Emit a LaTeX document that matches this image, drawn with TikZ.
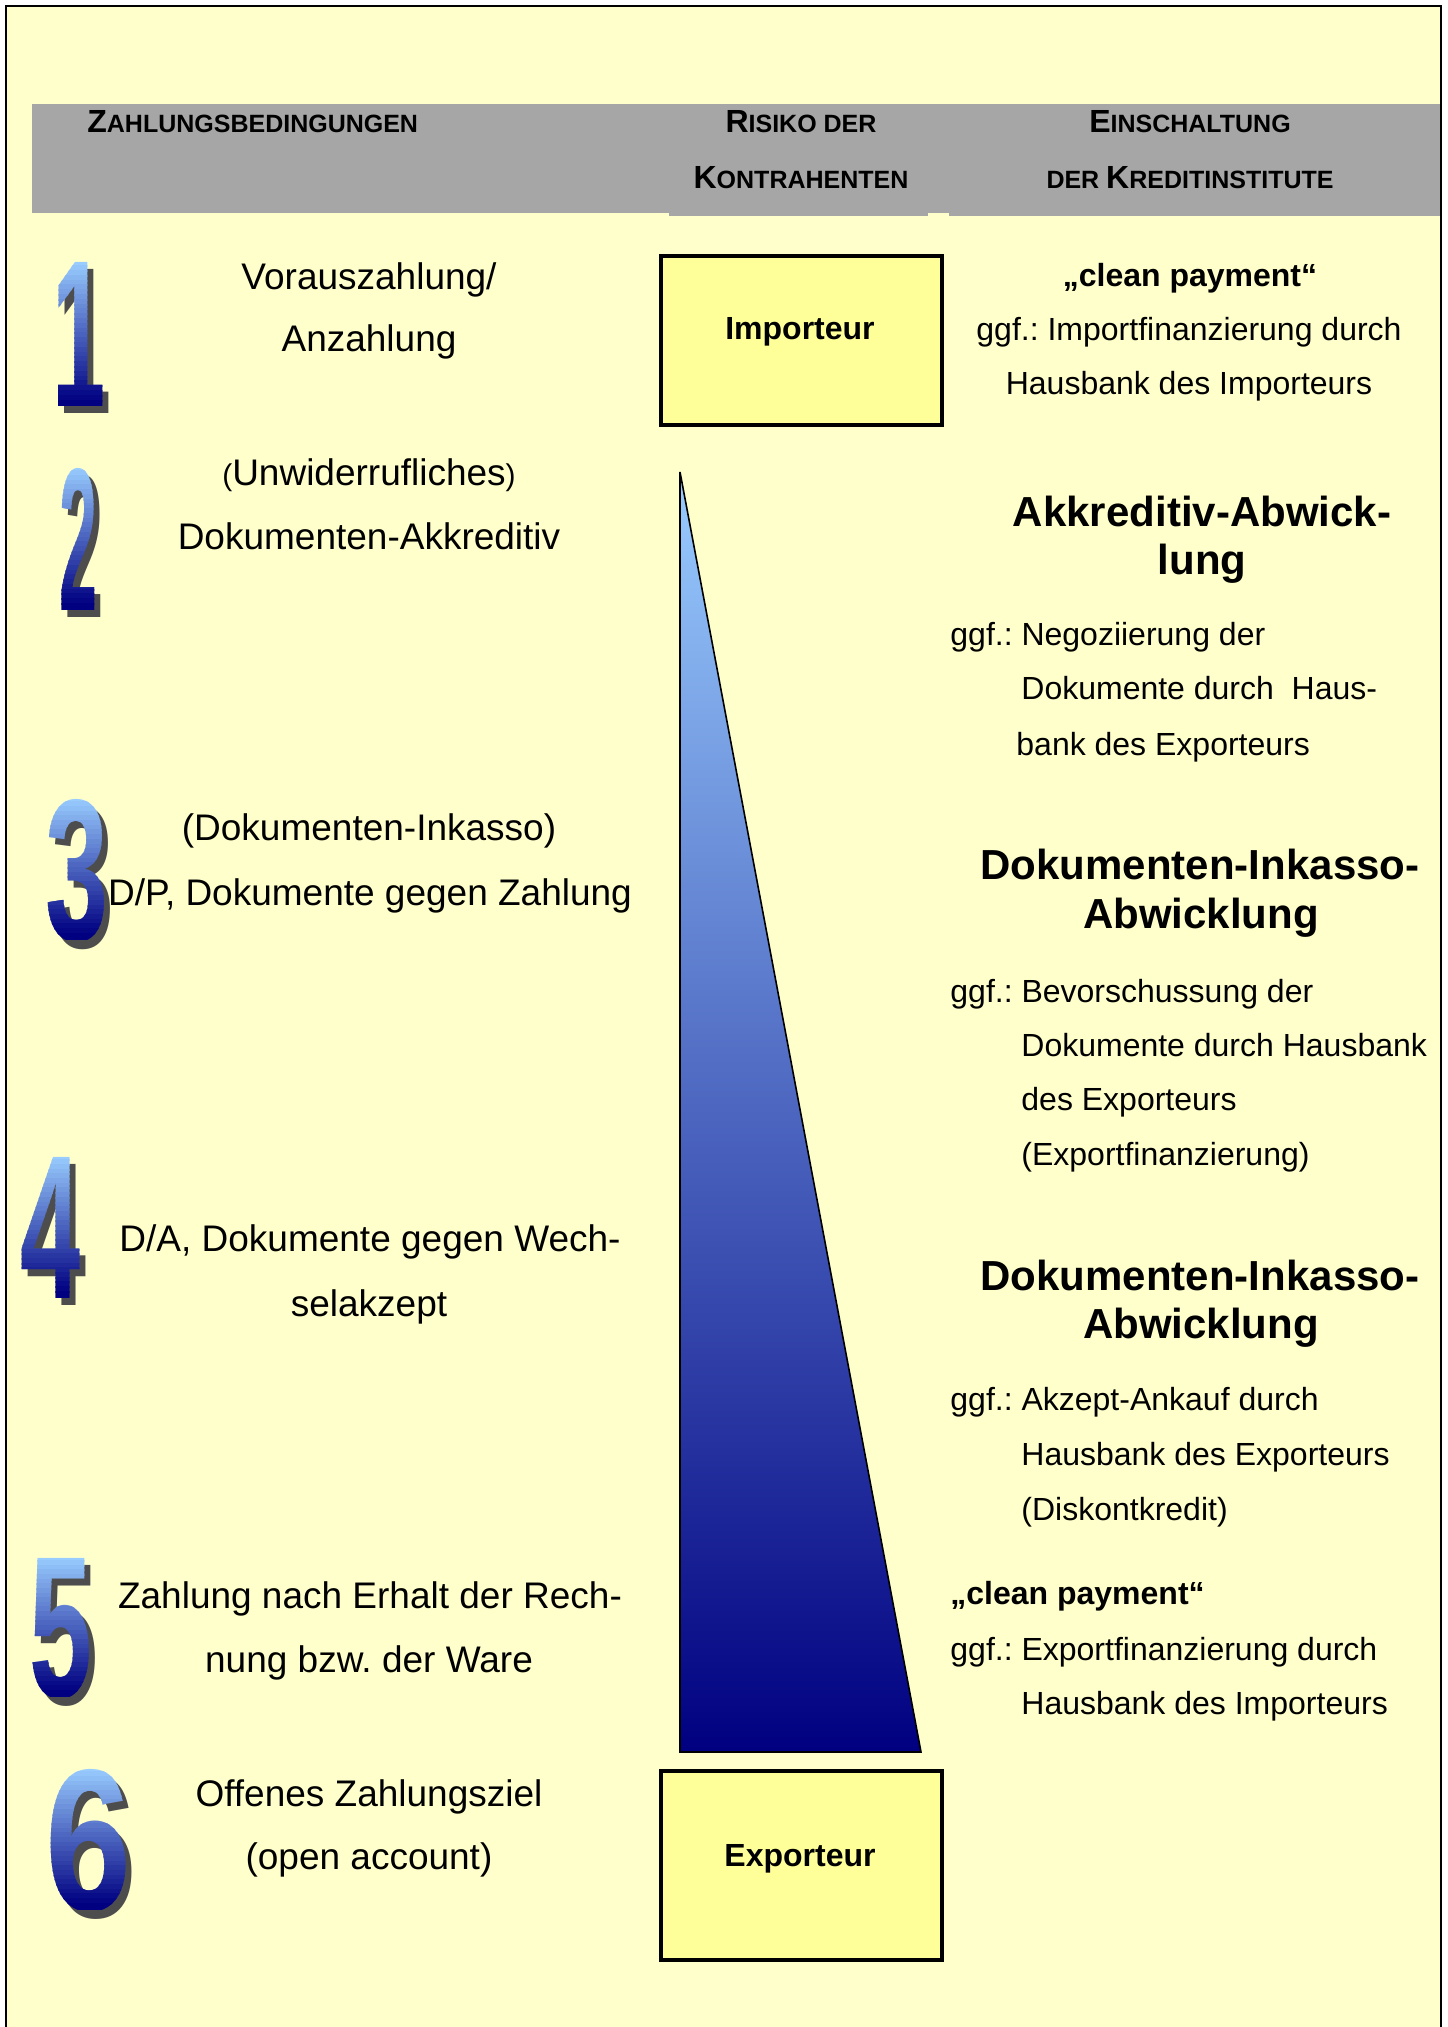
\documentclass[tikz,border=0pt]{standalone}
\usepackage{fontspec}
\setmainfont{Liberation Sans}
\usepackage{graphicx}
\frenchspacing
\newdimen\pxu \pxu=0.5pt
\definecolor{paper}{RGB}{255,255,204}
\definecolor{hdgray}{RGB}{166,166,166}
\definecolor{boxyel}{RGB}{255,255,153}
\definecolor{lb}{RGB}{153,204,255}
\definecolor{nb}{RGB}{0,0,128}
\definecolor{shad}{RGB}{77,77,77}
\tikzset{
  lt/.style={font=\fontsize{18.5}{20}\selectfont, inner sep=0pt, anchor=base},
  rt/.style={font=\fontsize{16}{18}\selectfont, inner sep=0pt, anchor=base west},
  rtc/.style={font=\fontsize{16}{18}\selectfont, inner sep=0pt, anchor=base},
  rbold/.style={font=\bfseries\fontsize{21}{24}\selectfont, inner sep=0pt, anchor=base},
  cp/.style={font=\bfseries\fontsize{16}{18}\selectfont, inner sep=0pt},
  hd/.style={font=\bfseries, inner sep=0pt},
  party/.style={draw=black, line width=2pt, fill=boxyel},
  plabel/.style={font=\bfseries\fontsize{16}{18}\selectfont, inner sep=0pt, anchor=base},
  digitbody/.style={anchor=base west, inner sep=0pt, outer sep=0pt, font=\bfseries},
}
\newcommand\hcap[2]{{\fontsize{16}{18}\selectfont #1}{\fontsize{12.5}{14}\selectfont #2}}
\newcommand\sparen[1]{{\fontsize{15}{15}\selectfont #1}}
% #1 name, #2 left x, #3 baseline y, #4 width, #5 height, #6 digit
\newcommand\bigdigit[6]{%
  \node[digitbody, text=shad] (#1s) at (#2+6,#3+7) {\resizebox{#4\pxu}{#5\pxu}{#6}};
  \foreach \k in {0,...,29}{%
    \pgfmathsetmacro\ya{#3-#5+\k*#5/30-2}
    \pgfmathsetmacro\yb{\ya+#5/30+1}
    \pgfmathtruncatemacro\pc{100-\k*100/29}
    \begin{scope}
      \clip (#2-8,\ya) rectangle (#2+#4+8,\yb);
      \node[digitbody, text=lb!\pc!nb] (#1-\k) at (#2,#3) {\resizebox{#4\pxu}{#5\pxu}{#6}};
    \end{scope}
  }%
}
\begin{document}
\begin{tikzpicture}[x=0.5pt,y=-0.5pt]
\useasboundingbox (0,0) rectangle (1447,2027);
\fill[white] (0,0) rectangle (1447,2027);
\fill[paper] (6,6) rectangle (1441,2027);
\draw[black, line width=1pt] (6,2027) -- (6,6) -- (1441,6) -- (1441,2027);

% header band
\fill[hdgray] (32,104) rectangle (1440,213);
\fill[hdgray] (669,212) rectangle (928,216);
\fill[hdgray] (949,212) rectangle (1440,216);
\node[hd, anchor=base west] (h1) at (87,133) {\hcap{Z}{AHLUNGSBEDINGUNGEN}};
\node[hd, anchor=base] (h2a) at (801,133) {\hcap{R}{ISIKO DER}};
\node[hd, anchor=base] (h2b) at (801,189) {\hcap{K}{ONTRAHENTEN}};
\node[hd, anchor=base] (h3a) at (1190,133) {\hcap{E}{INSCHALTUNG}};
\node[hd, anchor=base] (h3b) at (1190,189) {{\fontsize{12.5}{14}\selectfont DER }\hcap{K}{REDITINSTITUTE}};

% left column texts
\node[lt] (l1a) at (369,290) {Vorauszahlung/};
\node[lt] (l1b) at (369,352) {Anzahlung};
\node[lt] (l2a) at (369,486) {\sparen{(}Unwiderrufliches\sparen{)}};
\node[lt] (l2b) at (369,549) {Dokumenten-Akkreditiv};
\node[lt] (l3a) at (369,840) {(Dokumenten-Inkasso)};
\node[lt] (l3b) at (370,905) {D/P, Dokumente gegen Zahlung};
\node[lt] (l4a) at (370,1251) {D/A, Dokumente gegen Wech-};
\node[lt] (l4b) at (369,1316) {selakzept};
\node[lt] (l5a) at (370,1608) {Zahlung nach Erhalt der Rech-};
\node[lt] (l5b) at (369,1672) {nung bzw. der Ware};
\node[lt] (l6a) at (369,1806) {Offenes Zahlungsziel};
\node[lt] (l6b) at (369,1869) {(open account)};

% big digits
\bigdigit{d1}{52}{407}{53}{144}{1}
\bigdigit{d2}{59}{610}{38}{142}{2}
\bigdigit{d3}{45}{940}{63}{141}{3}
\bigdigit{d4}{20}{1298}{60}{141}{4}
\bigdigit{d5}{29}{1697}{63}{139}{5}
\bigdigit{d6}{45}{1910}{86}{141}{6}

% risk column
\node[party, minimum width=281\pxu, minimum height=169\pxu, anchor=north west] (imp) at (659,254) {};
\node[plabel] (impl) at (800,340) {Importeur};
\coordinate (tA) at (680,472);
\coordinate (tB) at (680,1752);
\coordinate (tC) at (921,1752);
\shade[top color=lb, bottom color=nb, draw=black, line width=0.8pt] (tA) -- (tB) -- (tC) -- cycle;
\node[party, minimum width=281\pxu, minimum height=189\pxu, anchor=north west] (exp) at (659,1769) {};
\node[plabel] (expl) at (800,1866) {Exporteur};

% right column
\node[cp, anchor=base] (r1a) at (1190,287) {„clean payment“};
\node[rtc] (r1b) at (1189,341) {ggf.: Importfinanzierung durch};
\node[rtc] (r1c) at (1189,395) {Hausbank des Importeurs};

\node[rbold] (r2a) at (1202,526) {Akkreditiv-Abwick-};
\node[rbold] (r2b) at (1202,574) {lung};
\node[rt] (r2c) at (950,645) {ggf.: Negoziierung der};
\node[rt] (r2d) at (1021,699) {Dokumente durch\ \ Haus-};
\node[rt] (r2e) at (1016,755) {bank des Exporteurs};

\node[rbold] (r3a) at (1200,879) {Dokumenten-Inkasso-};
\node[rbold] (r3b) at (1201,928) {Abwicklung};
\node[rt] (r3c) at (950,1002) {ggf.: Bevorschussung der};
\node[rt] (r3d) at (1021,1056) {Dokumente durch Hausbank};
\node[rt] (r3e) at (1021,1110) {des Exporteurs};
\node[rt] (r3f) at (1021,1165) {(Exportfinanzierung)};

\node[rbold] (r4a) at (1200,1290) {Dokumenten-Inkasso-};
\node[rbold] (r4b) at (1201,1338) {Abwicklung};
\node[rt] (r4c) at (950,1410) {ggf.: Akzept-Ankauf durch};
\node[rt] (r4d) at (1021,1465) {Hausbank des Exporteurs};
\node[rt] (r4e) at (1021,1520) {(Diskontkredit)};

\node[cp, anchor=base west] (r5a) at (950,1604) {„clean payment“};
\node[rt] (r5b) at (950,1660) {ggf.: Exportfinanzierung durch};
\node[rt] (r5c) at (1021,1714) {Hausbank des Importeurs};
\end{tikzpicture}
\end{document}
